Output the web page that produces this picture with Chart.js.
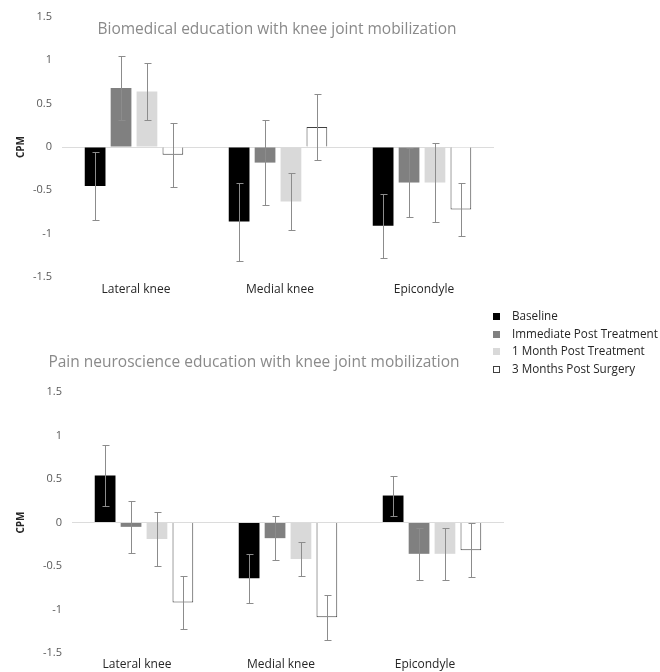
<!DOCTYPE html>
<html>
<head>
<meta charset="utf-8">
<script src="https://cdn.jsdelivr.net/npm/chart.js@4.4.1/dist/chart.umd.min.js"></script>
<style>
  body { margin: 0; background: #fff; font-family: "Open Sans", sans-serif; }
  #page { position: relative; width: 660px; height: 672px; overflow: hidden; }
  canvas { position: absolute; left: 0; }
  .title { position: absolute; color: #8a8a8a; font-size: 15.5px; white-space: nowrap; transform: translate(-50%, -50%); }
  #legend { position: absolute; left: 493px; top: 307px; font-size: 11.7px; color: #262626; line-height: 17.7px; white-space: nowrap; }
  #legend .sw { display: inline-block; width: 7px; height: 7px; margin-right: 12px; box-sizing: border-box; vertical-align: 0px; }
</style>
</head>
<body>
<div id="page">
  <canvas id="bioChart" width="510" height="300" style="top:0"></canvas>
  <canvas id="pneChart" width="520" height="332" style="top:340px"></canvas>
  <div class="title" style="left:277px; top:28px">Biomedical education with knee joint mobilization</div>
  <div class="title" style="left:254px; top:361px">Pain neuroscience education with knee joint mobilization</div>
  <div id="legend"></div>
</div>
<script>
const categories = ["Lateral knee", "Medial knee", "Epicondyle"];
const seriesNames = ["Baseline", "Immediate Post Treatment", "1 Month Post Treatment", "3 Months Post Surgery"];
const yTicks = [-1.5, -1, -0.5, 0, 0.5, 1, 1.5];

// biomedical education group: means and error bar half-lengths
const bioBaseline = [-0.45, -0.86, -0.91];
const bioImmediate = [0.68, -0.18, -0.41];
const bioOneMonth = [0.64, -0.63, -0.41];
const bioThreeMonths = [-0.09, 0.23, -0.72];
const bioBaselineErr = [0.39, 0.45, 0.37];
const bioImmediateErr = [0.37, 0.49, 0.40];
const bioOneMonthErr = [0.33, 0.33, 0.46];
const bioThreeMonthsErr = [0.37, 0.38, 0.31];

// pain neuroscience education group
const pneBaseline = [0.54, -0.64, 0.31];
const pneImmediate = [-0.05, -0.18, -0.36];
const pneOneMonth = [-0.19, -0.42, -0.36];
const pneThreeMonths = [-0.92, -1.09, -0.32];
const pneBaselineErr = [0.35, 0.28, 0.23];
const pneImmediateErr = [0.30, 0.25, 0.30];
const pneOneMonthErr = [0.31, 0.20, 0.30];
const pneThreeMonthsErr = [0.30, 0.26, 0.31];

const fills = ["#000000", "#808080", "#d9d9d9", "#ffffff"];
const borders = ["#000000", "#808080", "#d9d9d9", "#404040"];
const borderWidths = [0, 0, 0, 1];

const errorBars = {
    id: "errorBars",
    afterDatasetsDraw(chart, args, opts) {
        const ctx = chart.ctx;
        const yScale = chart.scales.y;
        ctx.save();
        ctx.strokeStyle = opts.color;
        ctx.lineWidth = 1;
        chart.data.datasets.forEach((ds, i) => {
            const meta = chart.getDatasetMeta(i);
            meta.data.forEach((bar, j) => {
                const v = ds.data[j];
                const e = ds.errors[j];
                const x = Math.round(bar.x) + 0.5;
                const top = Math.round(yScale.getPixelForValue(v + e)) + 0.5;
                const bot = Math.round(yScale.getPixelForValue(v - e)) + 0.5;
                ctx.beginPath();
                ctx.moveTo(x, top); ctx.lineTo(x, bot);
                ctx.moveTo(x - 3, top); ctx.lineTo(x + 4, top);
                ctx.moveTo(x - 3, bot); ctx.lineTo(x + 4, bot);
                ctx.stroke();
            });
        });
        ctx.restore();
    }
};

function buildChart(id, values, errors, cfg) {
    new Chart(document.getElementById(id), {
        type: "bar",
        data: {
            labels: categories,
            datasets: seriesNames.map((name, i) => ({
                label: name,
                data: values[i],
                errors: errors[i],
                backgroundColor: fills[i],
                borderColor: borders[i],
                borderWidth: borderWidths[i],
                categoryPercentage: 0.72,
                barPercentage: 0.8
            }))
        },
        options: {
            responsive: false,
            animation: false,
            layout: { padding: { top: cfg.top, right: cfg.right, left: 0, bottom: 0 } },
            plugins: {
                legend: { display: false },
                tooltip: { enabled: false },
                errorBars: { color: "#8c8c8c" }
            },
            scales: {
                x: {
                    grid: { display: false, drawTicks: false },
                    border: { display: false },
                    ticks: {
                        color: "#262626",
                        font: { family: "Open Sans", size: 12 },
                        padding: cfg.xPad,
                        labelOffset: cfg.labelShift
                    },
                    afterFit: s => { s.height = cfg.xHeight; }
                },
                y: {
                    min: -1.5,
                    max: 1.5,
                    afterBuildTicks: s => { s.ticks = yTicks.map(v => ({ value: v })); },
                    ticks: {
                        color: "#595959",
                        font: { family: "Open Sans", size: 11 },
                        padding: 10,
                        callback: v => String(v)
                    },
                    grid: { drawTicks: false, color: c => c.tick && c.tick.value === 0 ? "#dcdcdc" : "rgba(0,0,0,0)" },
                    border: { display: false },
                    title: {
                        display: true,
                        text: "CPM",
                        color: "#262626",
                        font: { family: "Open Sans", size: 10, weight: "bold" },
                        padding: { top: 15, bottom: 0 }
                    },
                    afterFit: s => { s.width = cfg.yWidth; }
                }
            }
        },
        plugins: [errorBars]
    });
}

buildChart("bioChart",
    [bioBaseline, bioImmediate, bioOneMonth, bioThreeMonths],
    [bioBaselineErr, bioImmediateErr, bioOneMonthErr, bioThreeMonthsErr],
    { top: 17, right: 16, xHeight: 23, xPad: 5, yWidth: 62, labelShift: 2 });

buildChart("pneChart",
    [pneBaseline, pneImmediate, pneOneMonth, pneThreeMonths],
    [pneBaselineErr, pneImmediateErr, pneOneMonthErr, pneThreeMonthsErr],
    { top: 52, right: 16, xHeight: 19, xPad: 4, yWidth: 72, labelShift: -7 });

// legend shared by both charts
const legend = document.getElementById("legend");
seriesNames.forEach((name, i) => {
    const row = document.createElement("div");
    const sw = document.createElement("span");
    sw.className = "sw";
    sw.style.background = fills[i];
    sw.style.border = i === 3 ? "1px solid #404040" : "none";
    row.appendChild(sw);
    row.appendChild(document.createTextNode(name));
    legend.appendChild(row);
});
</script>
</body>
</html>
